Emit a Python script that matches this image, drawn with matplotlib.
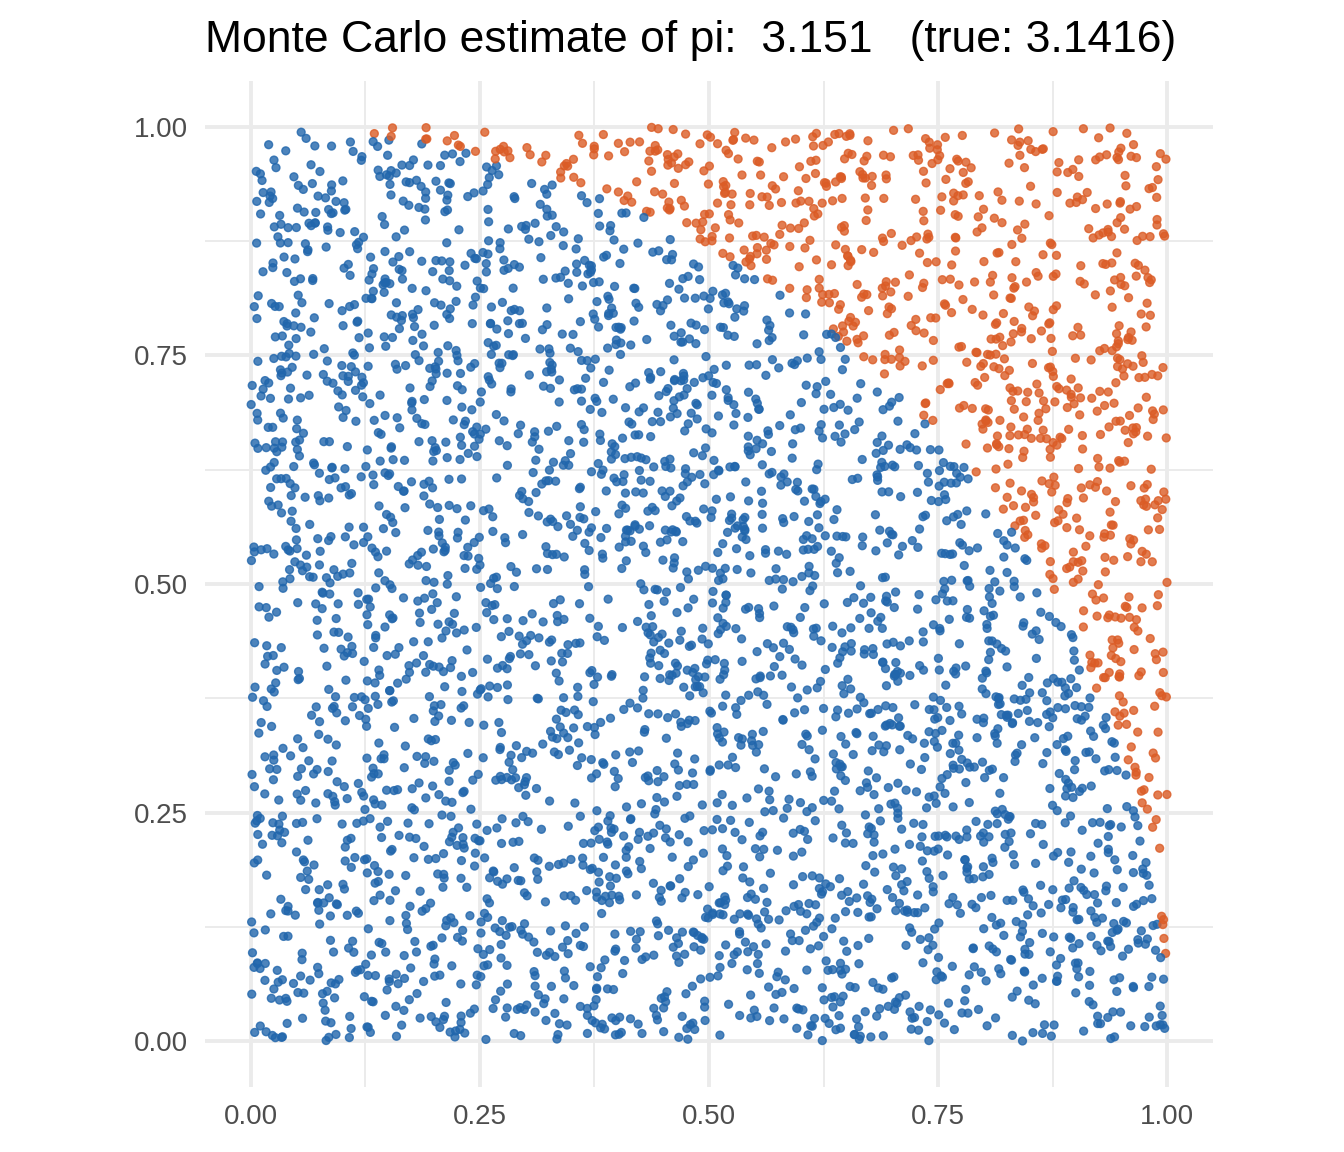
import numpy as np
import matplotlib
matplotlib.use("Agg")
import matplotlib.pyplot as plt

plt.rcParams['font.family'] = ['Liberation Sans', 'DejaVu Sans']

# The chart is a Monte Carlo simulation: 4000 uniform points in the unit square.
# The individual points cannot be read off the picture, so they are re-drawn
# with a fixed seed; the summary numbers below are taken from the reference.
n_points = 4000
pi_estimate = 3.151
pi_true = 3.1416

rng = np.random.default_rng(2024)
x = rng.uniform(0, 1, n_points)
y = rng.uniform(0, 1, n_points)
inside = x**2 + y**2 <= 1

colour_inside = '#2166AC'
colour_outside = '#DB5C26'

tick_values = [0.0, 0.25, 0.5, 0.75, 1.0]
tick_labels = ['0.00', '0.25', '0.50', '0.75', '1.00']
minor_values = [0.125, 0.375, 0.625, 0.875]

fig = plt.figure(figsize=(6.72, 5.76), dpi=200)
ax = fig.add_axes([0.1525, 0.0564, 0.75, 0.8733])

colours = np.where(inside, colour_inside, colour_outside)
ax.scatter(x, y, c=colours, s=8, alpha=0.8, edgecolors=colours,
           linewidths=0.5, zorder=3)

ax.set_xlim(-0.05, 1.05)
ax.set_ylim(-0.05, 1.05)

# theme_minimal-like grid
for v in tick_values:
    ax.axvline(v, color='#EBEBEB', linewidth=1.4, zorder=1)
    ax.axhline(v, color='#EBEBEB', linewidth=1.4, zorder=1)
for v in minor_values:
    ax.axvline(v, color='#EBEBEB', linewidth=0.7, zorder=1)
    ax.axhline(v, color='#EBEBEB', linewidth=0.7, zorder=1)

ax.set_xticks(tick_values)
ax.set_xticklabels(tick_labels)
ax.set_yticks(tick_values)
ax.set_yticklabels(tick_labels)
ax.tick_params(length=0, labelsize=10, labelcolor='#4D4D4D', pad=6)
for side in ax.spines.values():
    side.set_visible(False)

title = f"Monte Carlo estimate of pi:  {pi_estimate:.3f}   (true: {pi_true:.4f})"
fig.text(0.514, 0.9549, title, fontsize=16, ha='center', va='baseline',
         color='black')

fig.savefig('out.png', dpi=200)
